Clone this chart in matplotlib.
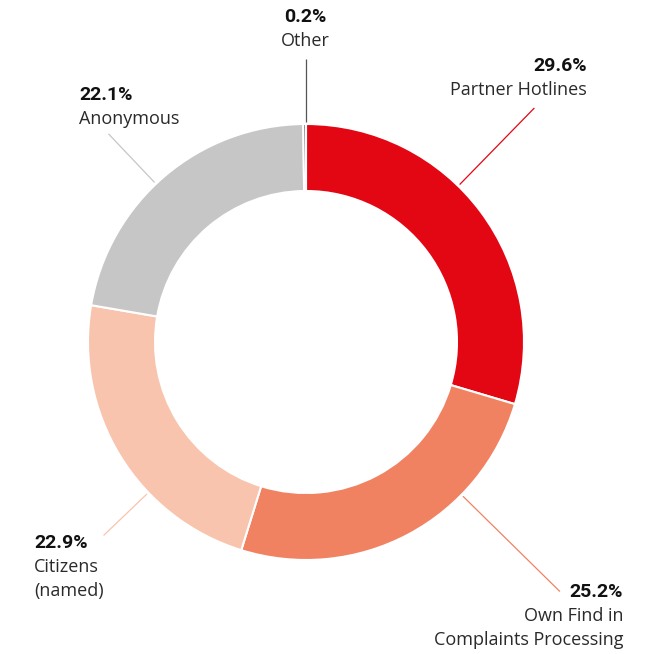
import numpy as np
import matplotlib
matplotlib.use("Agg")
import matplotlib.pyplot as plt

plt.rcParams['font.family'] = ['Open Sans', 'DejaVu Sans']

# data
categories = ['Partner Hotlines', 'Own Find in\nComplaints Processing', 'Citizens\n(named)', 'Anonymous', 'Other']
shares = [29.6, 25.2, 22.9, 22.1, 0.2]
colors = ['#E30613', '#F08262', '#F8C4AE', '#C6C6C6', '#555555']

# layout (pixel space, y measured from the top of the image)
W, H = 655, 654
cx, cy = 306, 342
r_out, ring = 218, 67
# leader angle (deg), leader end radius, label x, label y, alignment
leaders = [
    (45.7, 327, 587, 66, 'right'),
    (-44.5, 356, 623, 592, 'right'),
    (-136.3, 280, 34, 543, 'left'),
    (133.5, 287, 79, 95, 'left'),
    (90.0, 283, 305, 17, 'center'),
]
line_gap = 24

fig = plt.figure(figsize=(W / 100, H / 100), dpi=100)
ax = fig.add_axes([0, 0, 1, 1])

ax.pie(shares, colors=colors, startangle=90, counterclock=False,
       radius=r_out, center=(cx, H - cy),
       wedgeprops=dict(width=ring, edgecolor='white', linewidth=1.5))

for cat, val, col, (ang, r_end, tx, ty, ha) in zip(categories, shares, colors, leaders):
    a = np.radians(ang)
    r0 = r_out + 2
    x0, y0 = cx + r0 * np.cos(a), (H - cy) + r0 * np.sin(a)
    x1, y1 = cx + r_end * np.cos(a), (H - cy) + r_end * np.sin(a)
    ax.plot([x0, x1], [y0, y1], color=col, lw=0.9, solid_capstyle='butt')
    ax.text(tx, H - ty, f'{val:.1f}%', ha=ha, va='center', fontsize=14,
            fontweight='bold', family=['Roboto', 'DejaVu Sans'], color='#111111')
    for i, line in enumerate(cat.split('\n')):
        ax.text(tx, H - ty - line_gap * (i + 1), line, ha=ha, va='center',
                fontsize=13, color='#2a2a2a')

ax.set_xlim(0, W)
ax.set_ylim(0, H)
ax.set_aspect('equal')
ax.axis('off')

fig.savefig('out.png', dpi=100, facecolor='white')
